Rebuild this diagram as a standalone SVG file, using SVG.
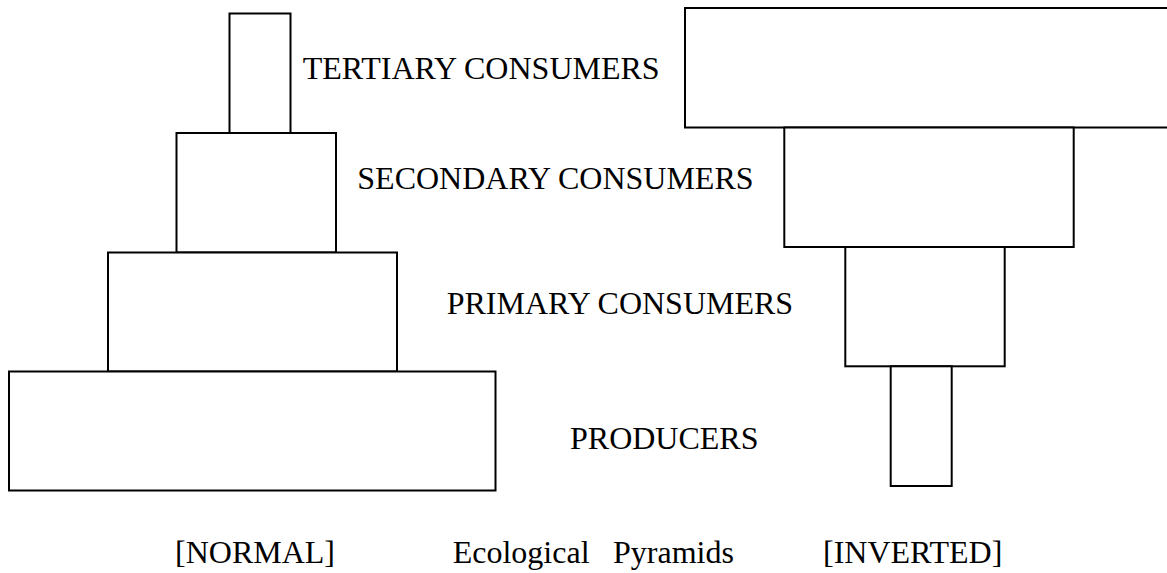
<svg xmlns="http://www.w3.org/2000/svg" width="1167" height="573" viewBox="0 0 1167 573">
<style>
.box{fill:#fff;stroke:#000;stroke-width:2}
text{font-family:"Liberation Serif","Times New Roman",serif;font-size:32px;fill:#000}
</style>
<rect width="1167" height="573" fill="#fff"/>
<g id="normal-pyramid">
<g id="n-tertiary"><rect class="box" x="229.5" y="13.5" width="61" height="119.5"/></g>
<g id="n-secondary"><rect class="box" x="176.5" y="133" width="159.5" height="119.5"/></g>
<g id="n-primary"><rect class="box" x="108" y="252.5" width="289" height="119"/></g>
<g id="n-producers"><rect class="box" x="9" y="371.5" width="486.5" height="119"/></g>
</g>
<g id="inverted-pyramid">
<g id="i-tertiary"><rect class="box" x="685" y="8" width="500" height="119.5"/></g>
<g id="i-secondary"><rect class="box" x="784.3" y="127.5" width="289.4" height="119.5"/></g>
<g id="i-primary"><rect class="box" x="845.3" y="247" width="159.4" height="119.3"/></g>
<g id="i-producers"><rect class="box" x="890.7" y="366.3" width="61" height="119.7"/></g>
</g>
<g id="connectors"></g>
<g id="labels">
<text x="302.7" y="79">TERTIARY CONSUMERS</text>
<text x="357.3" y="189">SECONDARY CONSUMERS</text>
<text x="446.7" y="314">PRIMARY CONSUMERS</text>
<text x="570" y="448.7">PRODUCERS</text>
<text x="175" y="563">[NORMAL]</text>
<text x="452.7" y="563">Ecological</text>
<text x="613" y="563">Pyramids</text>
<text x="823" y="563">[INVERTED]</text>
</g>
</svg>
